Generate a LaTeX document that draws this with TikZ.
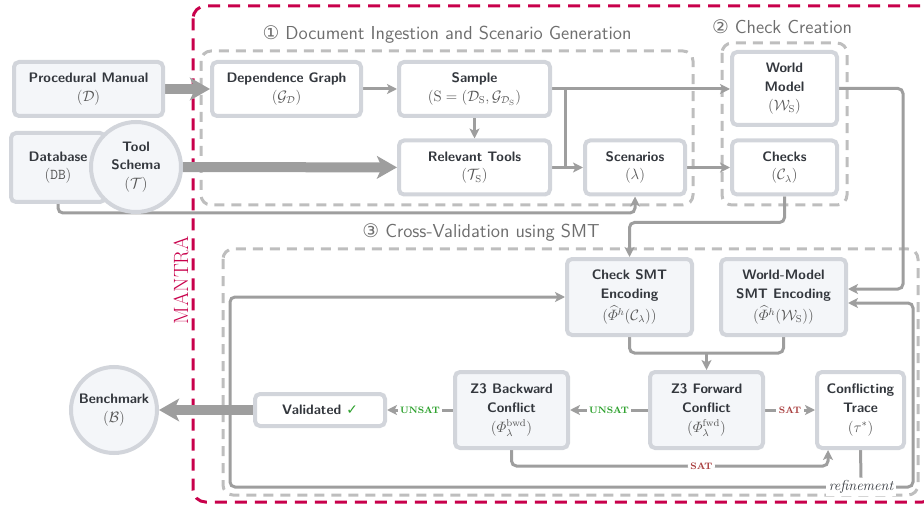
\documentclass[tikz,border=0pt]{standalone}
\usepackage{amsmath}
\usepackage{fontspec}
\newfontfamily\symfont{DejaVu Sans}
\usetikzlibrary{arrows.meta,backgrounds}

\definecolor{mantrared}{HTML}{C8004B}
\definecolor{edgegray}{HTML}{9E9E9E}
\definecolor{dashgray}{HTML}{BEBEBE}
\definecolor{boxline}{HTML}{D2D5DB}
\definecolor{boxfill}{HTML}{F4F6F9}
\definecolor{labeltext}{HTML}{33373D}
\definecolor{mathtext}{HTML}{555555}
\definecolor{titlegray}{HTML}{6E6E6E}
\definecolor{unsatgreen}{HTML}{2AA02A}
\definecolor{satred}{HTML}{A83C3C}

\newcommand{\sym}[1]{{\color{mathtext}\fontsize{12}{15}\selectfont$#1$}}

\begin{document}
\begin{tikzpicture}[x=0.8pt,y=-0.8pt]
    \tikzset{box/.style={draw=boxline, line width=3.2pt, rounded corners=4pt, fill=white,
                align=center, text=labeltext, inner sep=2pt,
                font=\sffamily\bfseries\fontsize{11}{15}\selectfont},
        shadedbox/.style={box, fill=boxfill},
        roundbox/.style={box, circle, fill=boxfill, inner sep=0pt},
        group/.style={draw=dashgray, line width=2.4pt, dash pattern=on 8pt off 5.6pt, rounded corners=8pt},
        grouptitle/.style={text=titlegray, font=\sffamily\fontsize{15}{17}\selectfont},
        link/.style={draw=edgegray, line width=2.4pt},
        flow/.style={link, -{Stealth[length=8pt,width=8pt,inset=2pt]}},
        bigflow/.style={draw=edgegray, line width=8pt, -{Stealth[length=16pt,width=18pt,inset=4pt]}},
        unsat/.style={fill=white, text=unsatgreen, inner sep=2pt,
                font=\rmfamily\bfseries\fontsize{7.5}{8}\selectfont},
        sat/.style={unsat, text=satred}}
    \useasboundingbox (0,0) rectangle (924,508);

    % inputs
    \node[shadedbox, minimum width=119.2pt, minimum height=43.2pt] (manual) at (88.5,89)
        {Procedural Manual\\\sym{(\mathcal{D})}};
    \node[shadedbox, minimum width=75.2pt, minimum height=55.2pt] (database) at (58,167.5)
        {Database\\\sym{(\mathtt{DB})}};
    \node[roundbox, minimum size=72pt] (tool) at (136,167)
        {Tool\\Schema\\\sym{(\mathcal{T})}};

    % (1) ingestion
    \node[box, minimum width=119.2pt, minimum height=43.2pt] (depgraph) at (286.5,89)
        {Dependence Graph\\\sym{(\mathcal{G}_{\mathcal{D}})}};
    \node[box, minimum width=120.8pt, minimum height=43.2pt] (sample) at (474.5,89)
        {Sample\\\sym{(\mathrm{S} = (\mathcal{D}_{\mathrm{S}}, \mathcal{G}_{\mathcal{D}_{\mathrm{S}}})}};
    \node[box, minimum width=120.8pt, minimum height=43.2pt] (reltools) at (474.5,167.5)
        {Relevant Tools\\\sym{(\mathcal{T}_{\mathrm{S}})}};
    \node[box, minimum width=80pt, minimum height=43.2pt] (scenarios) at (635,167.5)
        {Scenarios\\\sym{(\lambda)}};

    % (2) checks
    \node[box, minimum width=84pt, minimum height=58.4pt] (worldmodel) at (784.5,88.5)
        {World\\Model\\\sym{(\mathcal{W}_{\mathrm{S}})}};
    \node[box, minimum width=84pt, minimum height=43.2pt] (checks) at (784.5,167.5)
        {Checks\\\sym{(\mathcal{C}_{\lambda})}};

    % (3) smt
    \node[shadedbox, minimum width=100pt, minimum height=60.8pt] (checksmt) at (629.5,297)
        {Check SMT\\Encoding\\[3pt]\sym{(\widehat{\varPhi}^{h}(\mathcal{C}_{\lambda}))}};
    \node[shadedbox, minimum width=100pt, minimum height=60.8pt] (wmsmt) at (783.5,297)
        {World-Model\\SMT Encoding\\[3pt]\sym{(\widehat{\varPhi}^{h}(\mathcal{W}_{\mathrm{S}}))}};
    \node[shadedbox, minimum width=90.4pt, minimum height=60.8pt] (z3bwd) at (511.5,410)
        {Z3 Backward\\Conflict\\[1pt]\sym{(\varPhi^{\mathrm{bwd}}_{\lambda})}};
    \node[shadedbox, minimum width=90.4pt, minimum height=60.8pt] (z3fwd) at (706.5,410)
        {Z3 Forward\\Conflict\\[1pt]\sym{(\varPhi^{\mathrm{fwd}}_{\lambda})}};
    \node[box, minimum width=69.6pt, minimum height=60.8pt] (trace) at (860.5,410)
        {Conflicting\\Trace\\[1pt]\sym{(\tau^{*})}};
    \node[box, minimum width=104pt, minimum height=25.6pt] (validated) at (320,410)
        {Validated \textcolor{unsatgreen}{\symfont\mdseries ✓}};
    \node[roundbox, minimum size=68.8pt] (bench) at (114,410)
        {Benchmark\\\sym{(\mathcal{B})}};

    \node[fill=white, text=labeltext, inner sep=2pt,
        font=\rmfamily\itshape\fontsize{11.5}{13}\selectfont] (refine) at (861,487) {refinement};

    % titles
    \node[rotate=90, text=mantrared, font=\rmfamily\fontsize{16.5}{18}\selectfont] (mantra) at (181,280) {MANTRA};
    \node[grouptitle] (title1) at (447,35) {{\symfont ①} Document Ingestion and Scenario Generation};
    \node[grouptitle] (title2) at (782,27) {{\symfont ②} Check Creation};
    \node[grouptitle] (title3) at (481,233) {{\symfont ③} Cross-Validation using SMT};

    \coordinate (split) at (565,89);
    \coordinate (dbturn) at (635,213);
    \coordinate (fwdin) at (706.5,353);
    \coordinate (satturn) at (828,466);
    \coordinate (loopL) at (230,487);
    \coordinate (loopR) at (913,487);

    \begin{scope}[on background layer]
        \draw[draw=mantrared, line width=2.4pt, dash pattern=on 9.6pt off 6.4pt, rounded corners=10pt]
            (193,6) rectangle (935,502);
        \draw[group] (201,51) rectangle (693,205);
        \draw[group] (722,43) rectangle (847,205);
        \draw[group] (223,249) rectangle (918,495);

        \draw[bigflow] (manual) -- (depgraph);
        \draw[bigflow] (tool) -- (reltools);
        \draw[bigflow] (validated) -- (bench);

        \draw[flow] (depgraph) -- (sample);
        \draw[flow] (sample) -- (reltools);
        \draw[flow] (sample.east) -- (sample.east -| worldmodel.west);
        \draw[flow] (split) |- (scenarios.west);
        \draw[link] (reltools.east) -- (reltools.east -| split);
        \draw[flow] (scenarios) -- (checks);
        \draw[flow, rounded corners=4pt] (database.south) |- (dbturn) -- (scenarios.south);
        \draw[flow, rounded corners=4pt] (checks.south) -- ++(0,26) -| (checksmt.north);
        \draw[flow, rounded corners=4pt] (worldmodel.east) -- ++(64,0) |- ([yshift=6.4pt]wmsmt.east);
        \draw[link, rounded corners=4pt] (checksmt.south) |- (fwdin) -| (wmsmt.south);
        \draw[flow] (fwdin) -- (z3fwd.north);
        \draw[flow] (z3fwd) -- node[unsat] {UNSAT} (z3bwd);
        \draw[flow] (z3bwd) -- node[unsat] {UNSAT} (validated);
        \draw[flow] (z3fwd) -- node[sat] {SAT} (trace);
        \draw[flow, rounded corners=4pt] (z3bwd.south) |- node[sat, pos=0.8] {SAT} (satturn)
            -- (satturn |- trace.south);
        \draw[link] (trace.south) -- (refine.north);
        \draw[flow, rounded corners=4pt] (refine.west) -- (loopL) |- (checksmt.west);
        \draw[flow, rounded corners=4pt] (refine.east) -- (loopR) |- ([yshift=-4.8pt]wmsmt.east);
    \end{scope}
\end{tikzpicture}
\end{document}
